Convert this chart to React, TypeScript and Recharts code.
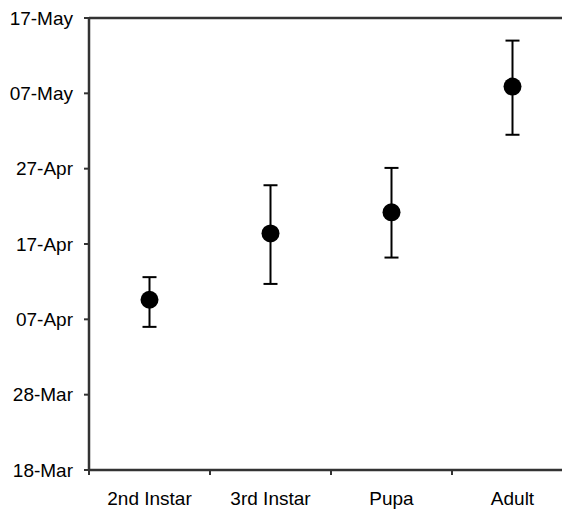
import React from 'react';
import { ScatterChart, Scatter, XAxis, YAxis, ErrorBar, ReferenceLine } from 'recharts';

// Categories (life stages)
const categories = ['2nd Instar', '3rd Instar', 'Pupa', 'Adult'];
// Mean date, in days after 18-Mar
const meanDays = [22.6, 31.4, 34.2, 50.9];
// Error bar extents (days) below / above the mean
const errLower = [3.6, 6.7, 6.0, 6.4];
const errUpper = [3.0, 6.4, 5.9, 6.1];
// Y axis tick values (days after 18-Mar) and labels
const yTicks = [0, 10, 20, 30, 40, 50, 60];
const yTickLabels = ['18-Mar', '28-Mar', '07-Apr', '17-Apr', '27-Apr', '07-May', '17-May'];

const data = categories.map((c, i) => ({
  name: c,
  x: i + 0.5,
  y: meanDays[i],
  err: [errLower[i], errUpper[i]],
}));

const xTicks: number[] = [];
categories.forEach((_, i) => {
  xTicks.push(i);
  xTicks.push(i + 0.5);
});

const AXIS = '#333';
const FONT = 'Liberation Sans, Arial, sans-serif';

const XTick = (props: any) => {
  const { x, y, payload } = props;
  const v = payload.value;
  if (Number.isInteger(v)) {
    return <line x1={x} x2={x} y1={y} y2={y + 5} stroke={AXIS} strokeWidth={2} />;
  }
  return (
    <text x={x} y={y + 22} dy="0.71em" textAnchor="middle" fill="#000" fontSize={19} fontFamily={FONT}>
      {categories[Math.floor(v)]}
    </text>
  );
};

const Dot = (props: any) => <circle cx={props.cx} cy={props.cy} r={9} fill="#000" />;

export default function App() {
  return (
    <div style={{ width: 562, height: 503, overflow: 'hidden' }}>
      <ScatterChart width={575} height={503} margin={{ top: 10, right: 10, bottom: 0, left: 0 }}>
        <XAxis
          type="number"
          dataKey="x"
          domain={[0, 4]}
          ticks={xTicks}
          interval={0}
          tick={<XTick />}
          tickLine={false}
          tickSize={0}
          tickMargin={0}
          height={41}
          axisLine={{ stroke: AXIS, strokeWidth: 2.5 }}
          allowDataOverflow
        />
        <YAxis
          type="number"
          dataKey="y"
          domain={[0, 60]}
          ticks={yTicks}
          interval={0}
          width={81}
          tickSize={5}
          tickMargin={11}
          tickFormatter={(v: number) => yTickLabels[yTicks.indexOf(v)]}
          tick={{ fill: '#000', fontSize: 19, fontFamily: FONT }}
          tickLine={{ stroke: AXIS, strokeWidth: 2 }}
          axisLine={{ stroke: AXIS, strokeWidth: 2.5 }}
          allowDataOverflow
        />
        <ReferenceLine y={60} stroke={AXIS} strokeWidth={2.5} />
        <ReferenceLine x={4} stroke={AXIS} strokeWidth={2.5} />
        <Scatter data={data} shape={<Dot />} isAnimationActive={false}>
          <ErrorBar dataKey="err" direction="y" width={7} stroke="#000" strokeWidth={2} />
        </Scatter>
      </ScatterChart>
    </div>
  );
}
